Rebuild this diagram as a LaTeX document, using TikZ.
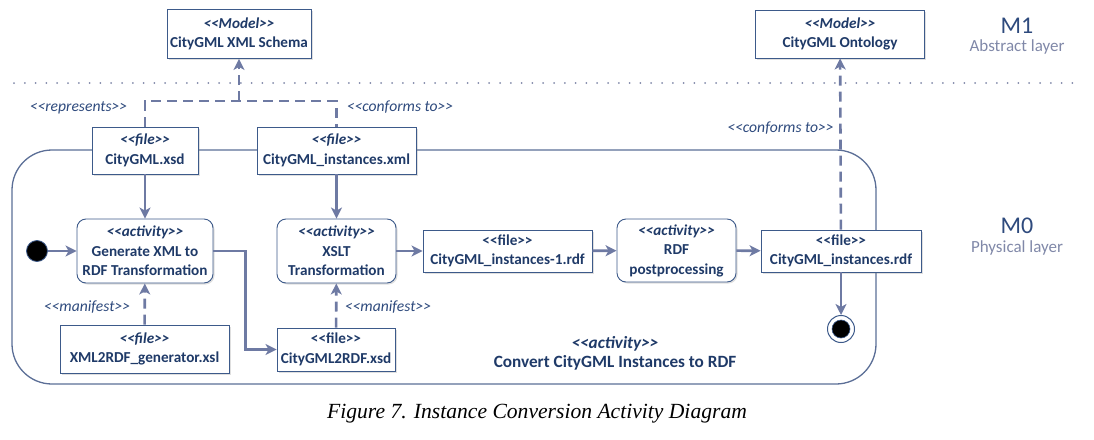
\documentclass[tikz,border=0pt]{standalone}
\usepackage{fontspec}
\setmainfont{Carlito}
\newfontfamily\capfont{Liberation Serif}
\usetikzlibrary{arrows.meta,shadows,calc}
\definecolor{txt}{HTML}{1F3A68}
\definecolor{lbl}{HTML}{2E4A7D}
\definecolor{conn}{HTML}{6E7AA3}
\definecolor{boxc}{HTML}{3D5A8A}
\definecolor{contc}{HTML}{5B6E96}
\definecolor{layer}{HTML}{8088A8}
\newcommand\stI[1]{{\itshape <{}<#1>{}>}}
\newcommand\stU[1]{<{}<#1>{}>}
\tikzset{
  base/.style={draw=boxc, fill=white, line width=0.9pt, align=center, inner sep=2pt,
    text=txt, font=\fontsize{15.2}{19.5}\selectfont\bfseries,
    drop shadow={shadow xshift=1.5pt, shadow yshift=-1.5pt, opacity=0.25}},
  filebox/.style={base},
  actbox/.style={base, rounded corners=9pt},
  cn/.style={draw=conn, line width=2.6pt, -{Stealth[length=11pt,width=11pt,inset=3pt]}},
  dcn/.style={cn, dash pattern=on 10pt off 6pt},
  dln/.style={draw=conn, line width=2.6pt, dash pattern=on 10pt off 6pt},
  lab/.style={text=lbl, font=\fontsize{15.6}{18}\selectfont\itshape, inner sep=0pt},
}
\begin{document}
\begin{tikzpicture}[x=1pt,y=-1pt]
\useasboundingbox (0,0) rectangle (1094,439);
% dotted separator
\draw[draw=layer, line width=2pt, line cap=round, dash pattern=on 0pt off 10.8pt] (14,83) -- (1082,83);
% layer labels
\node[text=lbl, font=\fontsize{24}{26}\selectfont] (m1) at (1017,26) {M1};
\node[text=layer, font=\fontsize{17}{20}\selectfont] (al) at (1017,47) {Abstract layer};
\node[text=lbl, font=\fontsize{24}{26}\selectfont] (m0) at (1017,226) {M0};
\node[text=layer, font=\fontsize{17}{20}\selectfont] (pl) at (1017,248) {Physical layer};
% container
\node[draw=contc, line width=1.3pt, rounded corners=40pt, minimum width=864pt, minimum height=234pt, inner sep=0pt] (cont) at (444,267) {};
\node[text=txt, align=center, font=\fontsize{17.2}{19.5}\selectfont\bfseries] (contl) at (615,353.5) {\stI{activity}\\Convert CityGML Instances to RDF};
% M1 models
\node[filebox, minimum width=144pt, minimum height=49pt] (schema) at (239,34) {\stI{Model}\\CityGML XML Schema};
\node[filebox, minimum width=169pt, minimum height=48pt] (onto) at (840,34) {\stI{Model}\\CityGML Ontology};
% files top
\node[filebox, minimum width=106pt, minimum height=47pt] (xsd) at (145,150.5) {\stI{file}\\CityGML.xsd};
\node[filebox, minimum width=159pt, minimum height=47pt] (xml) at (336.5,150.5) {\stI{file}\\CityGML\_instances.xml};
% activities
\node[actbox, minimum width=136pt, minimum height=64pt] (gen) at (145,251) {\stI{activity}\\Generate XML to\\RDF Transformation};
\node[actbox, minimum width=119pt, minimum height=64pt] (xslt) at (336.5,251) {\stI{activity}\\XSLT\\Transformation};
\node[filebox, minimum width=169pt, minimum height=42pt] (rdf1) at (507.5,251) {\stU{file}\\CityGML\_instances-1.rdf};
\node[actbox, minimum width=119pt, minimum height=63pt] (post) at (676.5,250.5) {\stI{activity}\\RDF\\postprocessing};
\node[filebox, minimum width=160pt, minimum height=42pt] (rdf) at (841,251) {\stU{file}\\CityGML\_instances.rdf};
% bottom files
\node[filebox, minimum width=169pt, minimum height=48pt] (xgen) at (144.5,349) {\stI{file}\\XML2RDF\_generator.xsl};
\node[filebox, minimum width=118pt, minimum height=43pt] (c2r) at (336,349.5) {\stU{file}\\CityGML2RDF.xsd};
% initial / final
\node[circle, fill=black, draw=boxc, line width=0.8pt, minimum size=21pt, inner sep=0pt] (init) at (37,251) {};
\node[circle, fill=white, draw=boxc, line width=1pt, minimum size=27pt, inner sep=0pt] (fin) at (841,329) {};
\node[circle, fill=black, draw=boxc, line width=0.6pt, minimum size=18pt, inner sep=0pt] (findot) at (fin) {};
% connectors
\draw[cn] (init) -- (gen);
\draw[cn] (xsd) -- (gen);
\draw[cn] (xml) -- (xslt);
\draw[cn] (xslt) -- (rdf1);
\draw[cn] (rdf1) -- (post);
\draw[cn] (post) -- (rdf);
\draw[cn] (rdf) -- (fin);
\draw[cn] (gen.east) -- ([xshift=32pt]gen.east) |- (c2r.west);
\draw[dcn] (xgen) -- (gen);
\draw[dcn] (c2r) -- (xslt);
\draw[dcn] (rdf) -- (onto);
\coordinate (j) at (239,101);
\draw[dln] (xsd.north) |- (j) -| (xml.north);
\draw[dcn] (j) -- (schema);
% labels
\node[lab] (lrep) at (78.5,108) {<{}<represents>{}>};
\node[lab] (lconf1) at (400,107) {<{}<conforms to>{}>};
\node[lab] (lconf2) at (780.5,128) {<{}<conforms to>{}>};
\node[lab] (lman1) at (87,307) {<{}<manifest>{}>};
\node[lab] (lman2) at (388,307) {<{}<manifest>{}>};
% caption
\node[font=\capfont\itshape\fontsize{21.6}{24}\selectfont, text=black] (cap) at (537,414) {Figure 7. Instance Conversion Activity Diagram};
\end{tikzpicture}
\end{document}
